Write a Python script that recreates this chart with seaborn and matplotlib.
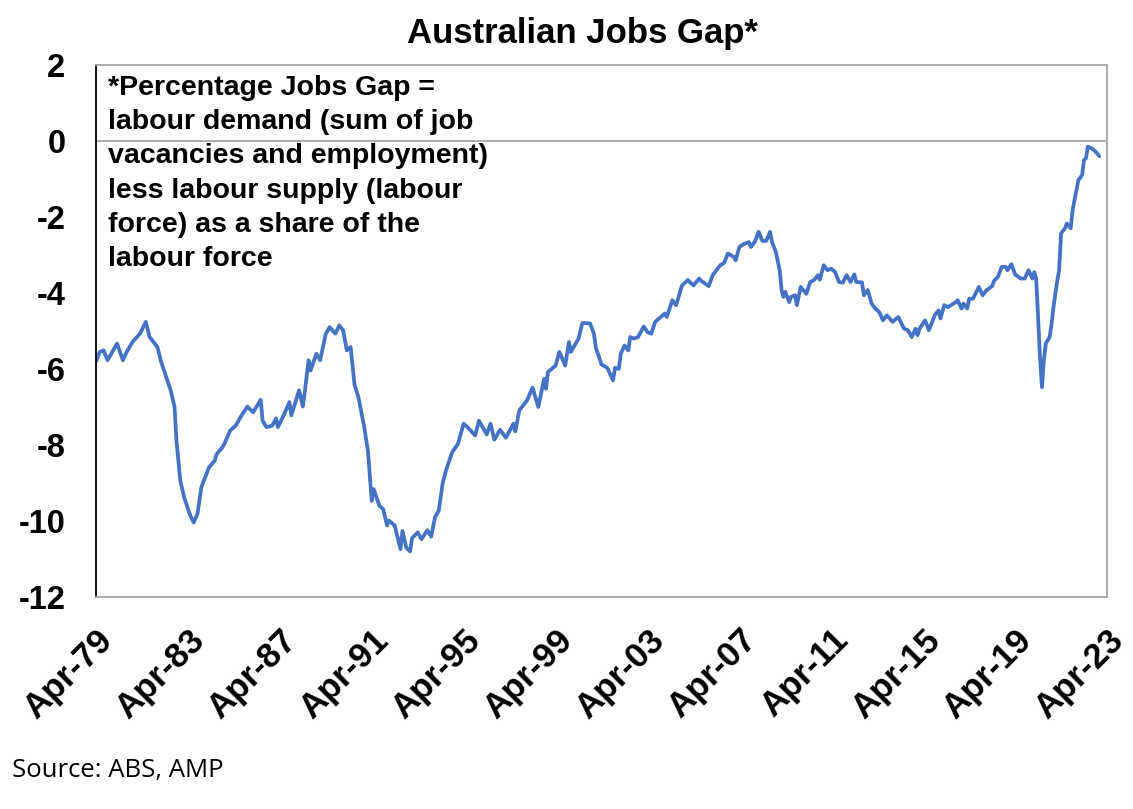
import pandas as pd
import matplotlib
matplotlib.use('Agg')
import matplotlib.pyplot as plt
import matplotlib.dates as mdates
import seaborn as sns

# Data: months since Apr-1979 and jobs gap (% of labour force)
obs_month = [0, 2, 4, 6, 11, 14, 16, 19, 23, 26, 28, 32, 34, 39, 41, 42, 44, 46, 49, 51,
             53, 55, 57, 59, 62, 63, 66, 67, 70, 73, 76, 79, 82, 86, 87, 89, 92, 94, 95, 98,
             101, 102, 106, 108, 109, 111, 112, 115, 117, 120, 122, 125, 127, 129, 131, 133,
             135, 137, 140, 142, 144, 145, 148, 150, 152, 153, 156, 159, 160, 162, 164, 165,
             168, 170, 173, 175, 177, 179, 181, 183, 186, 189, 192, 194, 198, 200, 204, 206,
             208, 211, 214, 218, 219, 221, 225, 228, 231, 234, 235, 236, 240, 242, 245, 247,
             248, 252, 254, 258, 260, 261, 264, 267, 270, 271, 273, 274, 276, 278, 279, 281,
             283, 286, 288, 290, 292, 295, 297, 298, 301, 303, 306, 309, 312, 315, 316, 318,
             320, 322, 324, 326, 328, 330, 333, 334, 336, 338, 341, 342, 344, 346, 348, 350,
             352, 353, 355, 357, 358, 359, 360, 362, 363, 365, 366, 368, 371, 373, 375, 377,
             378, 380, 382, 384, 386, 388, 390, 392, 394, 396, 397, 400, 401, 403, 405, 407,
             409, 411, 413, 416, 419, 422, 424, 426, 428, 429, 430, 433, 435, 436, 438, 440,
             441, 443, 445, 449, 450, 452, 453, 455, 456, 458, 461, 463, 465, 468, 469, 471,
             473, 475, 476, 478, 480, 483, 485, 487, 489, 490, 491, 492, 493, 494, 495, 496,
             498, 499, 500, 502, 503, 504, 506, 507, 509, 510, 512, 513, 515, 516, 517, 518,
             520, 522, 524]

jobs_gap = [-5.80, -5.55, -5.51, -5.77, -5.33, -5.77, -5.55, -5.29, -5.07, -4.76, -5.16, -5.42,
            -5.82, -6.56, -7.00, -7.88, -8.94, -9.38, -9.82, -10.04, -9.81, -9.11, -8.85, -8.59,
            -8.41, -8.24, -8.06, -7.97, -7.62, -7.49, -7.22, -6.99, -7.14, -6.81, -7.36, -7.53,
            -7.49, -7.30, -7.53, -7.22, -6.87, -7.22, -6.56, -6.99, -6.61, -5.77, -6.04, -5.60,
            -5.77, -5.07, -4.90, -5.07, -4.85, -4.98, -5.51, -5.42, -6.41, -6.74, -7.51, -8.17,
            -9.47, -9.16, -9.60, -9.69, -10.12, -9.99, -10.12, -10.74, -10.26, -10.70, -10.80,
            -10.45, -10.30, -10.48, -10.24, -10.41, -9.90, -9.73, -9.02, -8.63, -8.19, -7.97,
            -7.44, -7.53, -7.75, -7.36, -7.72, -7.44, -7.86, -7.60, -7.81, -7.44, -7.64, -7.09,
            -6.83, -6.49, -7.00, -6.26, -6.52, -6.08, -5.91, -5.55, -5.91, -5.29, -5.55, -5.20,
            -4.79, -4.80, -5.07, -5.44, -5.88, -5.97, -6.30, -5.97, -6.00, -5.60, -5.38, -5.51,
            -5.16, -5.20, -5.16, -4.88, -5.03, -5.07, -4.76, -4.63, -4.54, -4.63, -4.19, -4.32,
            -3.80, -3.66, -3.80, -3.62, -3.68, -3.75, -3.82, -3.53, -3.40, -3.27, -3.21, -2.96,
            -3.05, -3.14, -2.79, -2.72, -2.66, -2.79, -2.66, -2.39, -2.63, -2.63, -2.39, -2.66,
            -2.92, -3.40, -3.93, -4.10, -3.97, -4.24, -4.10, -4.06, -4.32, -3.84, -4.02, -3.71,
            -3.66, -3.53, -3.65, -3.27, -3.40, -3.36, -3.45, -3.71, -3.73, -3.53, -3.71, -3.51,
            -3.71, -3.72, -4.06, -3.92, -4.28, -4.41, -4.50, -4.72, -4.59, -4.76, -4.63, -4.94,
            -4.98, -5.16, -4.94, -5.11, -4.94, -4.72, -4.98, -4.85, -4.59, -4.46, -4.67, -4.32,
            -4.37, -4.24, -4.19, -4.41, -4.28, -4.41, -4.15, -4.15, -3.84, -4.06, -3.93, -3.82,
            -3.68, -3.58, -3.31, -3.31, -3.40, -3.24, -3.51, -3.62, -3.62, -3.40, -3.62, -3.45,
            -3.62, -4.63, -5.69, -6.48, -5.77, -5.33, -5.16, -4.81, -4.37, -3.66, -3.40, -2.43,
            -2.30, -2.17, -2.30, -1.82, -1.29, -1.03, -0.90, -0.50, -0.46, -0.15, -0.19, -0.28,
            -0.40]

y_ticks = [2, 0, -2, -4, -6, -8, -10, -12]
tick_years = list(range(1979, 2024, 4))

note = ("*Percentage Jobs Gap =\nlabour demand (sum of job\nvacancies and employment)\n"
        "less labour supply (labour\nforce) as a share of the\nlabour force")

all_months = pd.date_range('1979-04-01', periods=530, freq='MS')
df = pd.DataFrame({'date': all_months[obs_month], 'gap': jobs_gap})

sns.set_style('white')
plt.rcParams['font.family'] = ['Liberation Sans', 'DejaVu Sans']
plt.rcParams['axes.unicode_minus'] = False
plt.rcParams['text.color'] = 'black'
plt.rcParams['xtick.color'] = 'black'
plt.rcParams['ytick.color'] = 'black'

fig = plt.figure(figsize=(11.33, 8.09), dpi=100)
ax = fig.add_axes([96 / 1133, 1 - 597 / 809, (1107 - 96) / 1133, (597 - 65) / 809])

sns.lineplot(data=df, x='date', y='gap', color='#4472C4', linewidth=2.7, ax=ax)
ax.axhline(0, color='#A6A6A6', linewidth=1.3, zorder=1)

ax.set_xlim(pd.Timestamp('1979-04-01'), pd.Timestamp('2023-04-01'))
ax.set_ylim(-12, 2)
ax.set_yticks(y_ticks)
ax.set_yticklabels([str(v) for v in y_ticks], fontsize=23.5, fontweight='bold')
ax.set_xticks([pd.Timestamp(f'{yr}-04-01') for yr in tick_years])
ax.xaxis.set_major_formatter(mdates.DateFormatter('%b-%y'))
for lbl in ax.get_xticklabels():
    lbl.set_rotation(45)
    lbl.set_ha('right')
    lbl.set_rotation_mode('anchor')
    lbl.set_fontsize(25)
    lbl.set_fontweight('bold')
ax.tick_params(axis='y', length=0, pad=22)
ax.tick_params(axis='x', length=0, pad=19)
ax.set_xlabel('')
ax.set_ylabel('')

for side in ['top', 'right', 'bottom']:
    ax.spines[side].set_color('#A6A6A6')
    ax.spines[side].set_linewidth(1.3)
ax.spines['left'].set_color('#000000')
ax.spines['left'].set_linewidth(1.3)

ax.text(108 / 1133, 1 - 75 / 809, note, transform=fig.transFigure, fontsize=20.5,
        fontweight='bold', va='top', ha='left', linespacing=1.41)

fig.text(582 / 1133, 1 - 33 / 809, 'Australian Jobs Gap*', fontsize=25,
         fontweight='bold', ha='center', va='center')
fig.text(12 / 1133, 1 - 770 / 809, 'Source: ABS, AMP', fontsize=18.5,
         family=['Open Sans', 'DejaVu Sans'], ha='left', va='center')

fig.savefig('out.png', dpi=100)
